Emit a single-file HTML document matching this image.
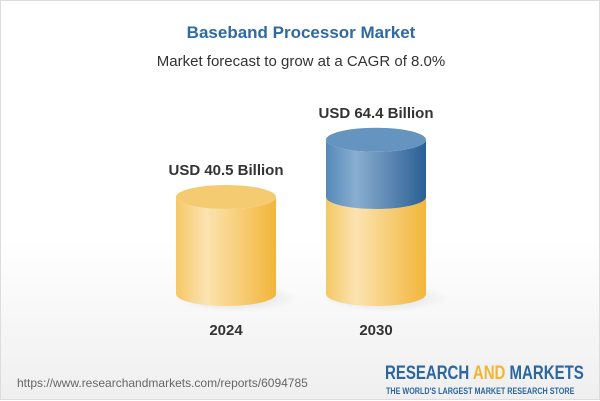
<!DOCTYPE html>
<html><head><meta charset="utf-8"><style>
body{margin:0;width:600px;height:400px;overflow:hidden;font-family:"Liberation Sans",sans-serif;}
#wrap{position:relative;width:600px;height:400px;background:linear-gradient(#fff 0%,#fff 60%,#efefef 100%);border:1px solid #ddd;box-sizing:border-box}
.t{position:absolute;left:0;width:600px;text-align:center}
</style></head><body>
<div id="wrap">
<div class="t" style="top:22px;font-size:17px;font-weight:bold;color:#2f6aa3">Baseband Processor Market</div>
<div class="t" style="top:52px;font-size:15px;color:#333">Market forecast to grow at a CAGR of 8.0%</div>
<svg id="chart" width="600" height="400" style="position:absolute;left:0;top:0">
<defs>
<linearGradient id="gy" x1="0" x2="1"><stop offset="0" stop-color="#f5c865"/><stop offset="0.3" stop-color="#fbe3b0"/><stop offset="1" stop-color="#f2b63a"/></linearGradient>
<linearGradient id="gb" x1="0" x2="1"><stop offset="0" stop-color="#5489b8"/><stop offset="0.3" stop-color="#8aaed0"/><stop offset="1" stop-color="#2a5f94"/></linearGradient>
<radialGradient id="sh"><stop offset="0" stop-color="#000" stop-opacity="0.12"/><stop offset="1" stop-color="#000" stop-opacity="0"/></radialGradient>
</defs>
</svg>
<div style="position:absolute;left:16px;top:375px;font-size:12px;color:#666;white-space:nowrap">https://www.researchandmarkets.com/reports/6094785</div>
<div style="position:absolute;left:384px;top:362px;font-size:19px;font-weight:bold;color:#2b66a0;white-space:nowrap;transform:scaleX(0.79);transform-origin:left">RESEARCH <span style="color:#f2b530">AND</span> MARKETS</div>
<div style="position:absolute;left:385px;top:385px;font-size:9px;font-weight:bold;color:#2b66a0;white-space:nowrap;transform:scaleX(0.8);transform-origin:left">THE WORLD'S LARGEST MARKET RESEARCH STORE</div>
</div>
<script>
const years=["2024","2030"];
const values=[40.5,64.4];
const labels=["USD 40.5 Billion","USD 64.4 Billion"];
const svg=document.getElementById('chart');
const NS='http://www.w3.org/2000/svg';
const base=293, scale=97/40.5, rx=50, ry=12;
const xc=i=>225+i*150;
const yv=v=>base-v*scale;
function mk(t,a){const e=document.createElementNS(NS,t);for(const k in a)e.setAttribute(k,a[k]);svg.appendChild(e);return e;}
function body(cx,yt,yb,fill){return mk('path',{d:`M${cx-rx},${yt} L${cx-rx},${yb} A${rx},${ry} 0 0 0 ${cx+rx},${yb} L${cx+rx},${yt} A${rx},${ry} 0 0 1 ${cx-rx},${yt} Z`,fill:fill});}
years.forEach((y,i)=>{
  const cx=xc(i);
  const sh=mk('ellipse',{cx:cx+10,cy:base+4,rx:rx+12,ry:ry+2,fill:'url(#sh)'});
  
  
  const baseTop=yv(values[0]);
  const b=body(cx,baseTop,base,'url(#gy)');
  
  
  let top=baseTop;
  if(i>0){
    top=yv(values[i]);
    const g=body(cx,top,baseTop,'url(#gb)');
    
    
    const lip=mk('ellipse',{cx:cx,cy:top,rx:rx,ry:ry,fill:'#6694c0'});
    
    
  } else {
    const lip=mk('ellipse',{cx:cx,cy:top,rx:rx,ry:ry,fill:'#f5cb72'});
    
    
  }
  const vl=mk('text',{x:cx,y:top-22,'text-anchor':'middle','font-size':'15','font-weight':'bold',fill:'#333','font-family':'Liberation Sans'});
  vl.textContent=labels[i];
  
  
  const yl=mk('text',{x:cx,y:334,'text-anchor':'middle','font-size':'15','font-weight':'bold',fill:'#333','font-family':'Liberation Sans'});
  yl.textContent=y;
  
  
});
</script>
</body></html>
